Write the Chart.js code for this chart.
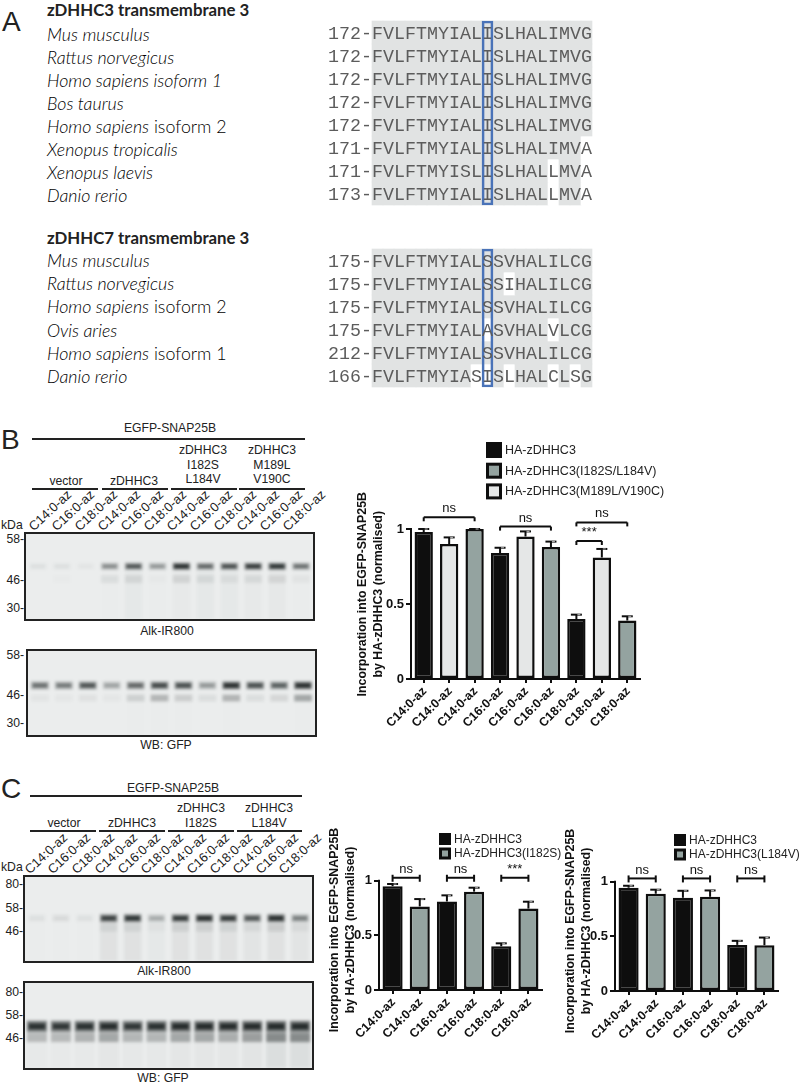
<!DOCTYPE html>
<html>
<head>
<meta charset="utf-8">
<title>zDHHC3 figure</title>
<script src="https://cdn.jsdelivr.net/npm/chart.js@4/dist/chart.umd.min.js"></script>
<style>
  html, body { margin: 0; background: #fff; }
  #page { position: relative; width: 802px; height: 1087px; overflow: hidden; font-family: "Liberation Sans", Arial, sans-serif; color: #222; }
  #page canvas { position: absolute; }
  .txt { position: absolute; white-space: nowrap; line-height: 1; }
  .rule { position: absolute; background: #222; }
  .blot { position: absolute; box-sizing: border-box; border: 2px solid #222; background: #ebeded; overflow: hidden; }
</style>
</head>
<body>
<div id="page"></div>
<script>
// Panel A alignments
const speciesA = ['<i>Mus musculus</i>', '<i>Rattus norvegicus</i>', '<i>Homo sapiens isoform 1</i>', '<i>Bos taurus</i>', '<i>Homo sapiens</i> isoform 2', '<i>Xenopus tropicalis</i>', '<i>Xenopus laevis</i>', '<i>Danio rerio</i>'];
const startA = [172, 172, 172, 172, 172, 171, 171, 173];
const seqA = ['FVLFTMYIALISLHALIMVG', 'FVLFTMYIALISLHALIMVG', 'FVLFTMYIALISLHALIMVG', 'FVLFTMYIALISLHALIMVG', 'FVLFTMYIALISLHALIMVG', 'FVLFTMYIALISLHALIMVA', 'FVLFTMYISLISLHALLMVA', 'FVLFTMYIALISLHALLMVA'];
const unshadedA = [[], [], [], [], [], [19], [16, 19], [16, 19]];

const speciesB = ['<i>Mus musculus</i>', '<i>Rattus norvegicus</i>', '<i>Homo sapiens</i> isoform 2', '<i>Ovis aries</i>', '<i>Homo sapiens</i> isoform 1', '<i>Danio rerio</i>'];
const startB = [175, 175, 175, 175, 212, 166];
const seqB = ['FVLFTMYIALSSVHALILCG', 'FVLFTMYIALSSIHALILCG', 'FVLFTMYIALSSVHALILCG', 'FVLFTMYIALASVHALVLCG', 'FVLFTMYIALSSVHALILCG', 'FVLFTMYIASISLHALCLSG'];
const unshadedB = [[], [12], [], [10, 16], [], [9, 10, 12, 16, 18]];

// Panel B bars
const labelsB = ['C14:0-az', 'C14:0-az', 'C14:0-az', 'C16:0-az', 'C16:0-az', 'C16:0-az', 'C18:0-az', 'C18:0-az', 'C18:0-az'];
const wtB = [0.98, null, null, 0.84, null, null, 0.40, null, null];
const doubleB = [null, null, 1.0, null, null, 0.88, null, null, 0.39];
const mutB = [null, 0.90, null, null, 0.95, null, null, 0.81, null];
const upperB = [1.0, 0.944, 1.0, 0.875, 0.984, 0.916, 0.429, 0.867, 0.418];

// Panel C bars
const labelsC = ['C14:0-az', 'C14:0-az', 'C16:0-az', 'C16:0-az', 'C18:0-az', 'C18:0-az'];
const wtC1 = [0.95, null, 0.81, null, 0.40, null];
const i182s = [null, 0.765, null, 0.90, null, 0.745];
const upperC1 = [0.97, 0.832, 0.866, 0.936, 0.427, 0.808];
const wtC2 = [0.945, null, 0.853, null, 0.422, null];
const l184v = [null, 0.89, null, 0.862, null, 0.419];
const upperC2 = [0.963, 0.927, 0.917, 0.92, 0.459, 0.489];
const yTicks = [0, 0.5, 1];

// Blot band strengths per lane (read by eye)
const lanes = ['1', '2', '3', '4', '5', '6', '7', '8', '9', '10', '11', '12'];
const blotB1Main = [0.05, 0.05, 0.03, 0.4, 0.7, 0.35, 1, 0.6, 0.75, 0.9, 0.95, 0.55];
const blotB1Low = [0, 0.01, 0, 0.07, 0.09, 0.02, 0.1, 0.08, 0.06, 0.08, 0.09, 0.04];
const blotB1Smear = [0, 0, 0, 0.005, 0.025, 0.005, 0.015, 0.025, 0.025, 0.015, 0.02, 0.005];
const blotB2Main = [0.55, 0.5, 0.72, 0.3, 0.6, 0.8, 0.75, 0.35, 1, 0.75, 0.65, 1];
const blotB2Low = [0.04, 0.03, 0.05, 0.03, 0.13, 0.25, 0.14, 0.07, 0.26, 0.07, 0.1, 0.32];
const blotB2Smear = [0, 0, 0, 0, 0.005, 0.005, 0.005, 0, 0.005, 0, 0, 0.005];
const blotC1Main = [0.05, 0.07, 0.05, 0.85, 0.95, 0.25, 0.9, 1, 0.9, 0.7, 1, 0.45];
const blotC1Low = [0, 0, 0, 0.07, 0.07, 0.03, 0.09, 0.09, 0.08, 0.06, 0.1, 0.05];
const blotC1Smear = [0.005, 0.005, 0.005, 0.05, 0.05, 0.025, 0.05, 0.05, 0.05, 0.04, 0.05, 0.04];
const blotC2Main = [0.95, 0.9, 0.95, 1, 0.9, 0.95, 1, 1, 1, 1, 1, 1];
const blotC2Low = [0.22, 0.22, 0.26, 0.3, 0.24, 0.24, 0.3, 0.3, 0.28, 0.34, 0.42, 0.42];
const blotC2Smear = [0.015, 0.015, 0.015, 0.03, 0.02, 0.02, 0.03, 0.03, 0.03, 0.04, 0.07, 0.07];

const BLACK = '#0e0e0e';
const GREY = '#94a3a0';
const LIGHT = '#e5e7e7';
const SHADE = '#e1e3e3';
const BLUE = '#4a73b8';
const SANS = '"Liberation Sans", Arial, sans-serif';
const page = document.getElementById('page');

function put(html, x, y, o = {}) {
  const el = document.createElement('div');
  el.className = 'txt';
  el.innerHTML = html;
  el.style.left = x + 'px';
  el.style.top = y + 'px';
  el.style.fontSize = (o.size || 12.2) + 'px';
  if (o.font) el.style.fontFamily = o.font;
  if (o.bold) el.style.fontWeight = 'bold';
  if (o.light) { el.style.fontWeight = '300'; el.style.color = '#000'; }
  const shift = o.align === 'left' ? '0' : o.align === 'right' ? '-100%' : '-50%';
  el.style.transform = `translate(${shift},-50%)`;
  page.appendChild(el);
}

function rule(x1, x2, y, h = 2) {
  const el = document.createElement('div');
  el.className = 'rule';
  el.style.cssText = `left:${x1}px;top:${y - h / 2}px;width:${x2 - x1}px;height:${h}px`;
  page.appendChild(el);
}

function addCanvas(parent, left, top, w, h) {
  const c = document.createElement('canvas');
  c.width = w;
  c.height = h;
  c.style.cssText = `left:${left}px;top:${top}px;width:${w}px;height:${h}px`;
  parent.appendChild(c);
  return c;
}

function laneLabels(x0, y0) {
  for (let i = 0; i < 12; i++) {
    const el = document.createElement('div');
    el.className = 'txt';
    el.textContent = ['C14:0-az', 'C16:0-az', 'C18:0-az'][i % 3];
    el.style.cssText += `left:${x0 + 4 + i * 23.1}px;top:${y0 - 10}px;font-size:13px;transform-origin:0 100%;transform:rotate(-43deg)`;
    page.appendChild(el);
  }
}

// Alignment block: shading comes from floating bars, one dataset per sequence
function drawAlignment(top, seqs, starts, unshaded, boxColumn) {
  const columns = seqs[0].split('').map((_, i) => String(i));
  const canvas = addCanvas(page, 325, top - 3, 270, seqs.length * 23 + 6);
  const datasets = seqs.map((s, r) => ({
    data: columns.map(() => [r, r + 1]),
    backgroundColor: columns.map((_, c) => unshaded[r].includes(c) ? '#fff' : SHADE),
    borderWidth: 0,
    clip: false
  }));
  // lower order draws on top, the box has to sit over the shading
  datasets.push({
    data: columns.map((_, c) => c === boxColumn ? [0, seqs.length] : null),
    backgroundColor: 'rgba(0,0,0,0)',
    borderColor: BLUE,
    borderWidth: 2,
    borderSkipped: false,
    clip: false,
    order: -1
  });
  new Chart(canvas, {
    type: 'bar',
    data: { labels: columns, datasets },
    options: {
      responsive: false,
      animation: false,
      layout: { padding: { left: 47, right: 3, top: 3, bottom: 3 } },
      datasets: { bar: { grouped: false, barPercentage: 1, categoryPercentage: 1 } },
      plugins: { legend: { display: false }, tooltip: { enabled: false } },
      scales: {
        x: { display: false },
        y: { display: false, reverse: true, min: 0, max: seqs.length }
      }
    },
    plugins: [{
      id: 'residues',
      afterDraw(chart) {
        const { ctx, scales: { x, y } } = chart;
        ctx.save();
        ctx.font = '18.3px "Liberation Mono", monospace';
        ctx.fillStyle = '#5c5c5c';
        ctx.textAlign = 'center';
        ctx.textBaseline = 'middle';
        seqs.forEach((s, r) => {
          const py = y.getPixelForValue(r + 0.58);
          (starts[r] + '-').split('').forEach((ch, i) => ctx.fillText(ch, x.getPixelForValue(i - 4), py));
          s.split('').forEach((ch, c) => ctx.fillText(ch, x.getPixelForValue(c), py));
        });
        ctx.restore();
      }
    }]
  });
}

// Western blot panel: bands are floating bars, the css blur softens them
function drawBlot(left, top, w, h, main, low, smear, mainY, lowY, thick, lowHalf, barPct) {
  const box = document.createElement('div');
  box.className = 'blot';
  box.style.cssText = `left:${left}px;top:${top}px;width:${w}px;height:${h}px`;
  page.appendChild(box);
  const canvas = addCanvas(box, 0, 0, w - 4, h - 4);
  canvas.style.filter = 'blur(1.5px)';
  const band = (vals, y1, y2, alpha, pct) => ({
    data: vals.map(() => [y1, y2]),
    backgroundColor: vals.map(v => `rgba(18,24,24,${(v * alpha).toFixed(3)})`),
    borderWidth: 0,
    barPercentage: pct
  });
  new Chart(canvas, {
    type: 'bar',
    data: {
      labels: lanes,
      datasets: [
        band(smear, mainY, 1, 1, barPct),
        band(low, lowY - lowHalf, lowY + lowHalf, 1, barPct),
        band(main, mainY - thick, mainY + thick, 0.55, barPct),
        band(main, mainY - thick * 0.5, mainY + thick * 0.5, 0.8, barPct * 0.82)
      ]
    },
    options: {
      responsive: false,
      animation: false,
      layout: { padding: 0 },
      datasets: { bar: { grouped: false, categoryPercentage: 1 } },
      plugins: { legend: { display: false }, tooltip: { enabled: false } },
      scales: {
        x: { display: false },
        y: { display: false, reverse: true, min: 0, max: 1 }
      }
    }
  });
}

// Bar chart with error caps, brackets and a stacked legend
function drawBars(p) {
  const canvas = addCanvas(page, p.left, p.top, p.width, p.height);
  const datasets = p.series.map(s => ({
    label: s.label,
    data: s.data,
    backgroundColor: s.color,
    borderColor: BLACK,
    borderWidth: 2.5,
    borderSkipped: false,
    clip: false
  }));
  new Chart(canvas, {
    type: 'bar',
    data: { labels: p.labels, datasets },
    options: {
      responsive: false,
      animation: false,
      layout: { padding: p.padding },
      datasets: { bar: { grouped: false, barPercentage: p.barPct, categoryPercentage: 1 } },
      plugins: { legend: { display: false }, tooltip: { enabled: false } },
      scales: {
        x: {
          afterFit: s => { s.height = p.xHeight; },
          grid: { display: true, drawOnChartArea: false, offset: false, color: BLACK, lineWidth: 2, tickLength: 4 },
          border: { display: true, color: BLACK, width: 2 },
          ticks: { color: '#111', font: { family: SANS, size: 12.4, weight: 'bold' }, maxRotation: 45, minRotation: 45, autoSkip: false, padding: 1, labelOffset: 1 }
        },
        y: {
          min: 0,
          max: p.yMax,
          afterBuildTicks: s => { s.ticks = yTicks.map(v => ({ value: v })); },
          afterFit: s => { s.width = p.yWidth; },
          grid: { display: true, drawOnChartArea: false, color: BLACK, lineWidth: 2, tickLength: 5 },
          border: { display: false },
          ticks: { color: '#111', font: { family: SANS, size: 13, weight: 'bold' }, padding: 2, callback: v => String(v) },
          title: {
            display: true,
            text: ['Incorporation into EGFP-SNAP25B', 'by HA-zDHHC3 (normalised)'],
            color: '#111',
            font: { family: SANS, size: 12.4, weight: 'bold', lineHeight: 1.25 },
            padding: { top: p.titleTop, bottom: 0 }
          }
        }
      }
    },
    plugins: [{
      id: 'extras',
      afterDatasetsDraw(chart) {
        const { ctx, scales: { x, y } } = chart;
        ctx.save();
        ctx.strokeStyle = BLACK;
        ctx.fillStyle = '#111';
        ctx.lineWidth = 2;
        const line = (x1, y1, x2, y2) => {
          ctx.beginPath();
          ctx.moveTo(x1, y1);
          ctx.lineTo(x2, y2);
          ctx.stroke();
        };
        // y axis only runs up to 1
        const ax = x.left;
        line(ax, y.getPixelForValue(0), ax, y.getPixelForValue(1) - 1);

        p.upper.forEach((u, i) => {
          const cx = x.getPixelForValue(i);
          const py = y.getPixelForValue(u);
          const base = p.series.map(s => s.data[i]).find(v => v !== null);
          line(cx, y.getPixelForValue(base), cx, py);
          line(cx - 5.5, py, cx + 5.5, py);
          ctx.save();
          ctx.strokeStyle = '#bbb';
          ctx.lineWidth = 1;
          line(cx + 1, py, cx + 4, py);
          ctx.restore();
        });

        p.brackets.forEach(b => {
          const x1 = x.getPixelForValue(b.from);
          const x2 = x.getPixelForValue(b.to);
          const py = y.getPixelForValue(b.level);
          line(x1, py, x2, py);
          line(x1, py - (p.stemUp || 0), x1, py + 4);
          line(x2, py - (p.stemUp || 0), x2, py + 4);
          ctx.font = `13px ${SANS}`;
          ctx.textAlign = 'center';
          ctx.textBaseline = 'middle';
          ctx.fillText(b.text, (x1 + x2) / 2, py - 8.5);
        });

        // legend reads the dataset labels and colours
        ctx.font = `${p.legend.size}px ${SANS}`;
        ctx.textAlign = 'left';
        ctx.textBaseline = 'middle';
        p.series.forEach((s, i) => {
          const top = p.legend.y + i * p.legend.step;
          ctx.fillStyle = BLACK;
          ctx.fillRect(p.legend.x, top, p.legend.box, p.legend.box);
          if (s.color !== BLACK) {
            ctx.fillStyle = s.color;
            ctx.fillRect(p.legend.x + 3, top + 3, p.legend.box - 6, p.legend.box - 6);
          }
          ctx.fillStyle = '#222';
          ctx.fillText(s.label, p.legend.x + p.legend.box + 3, top + p.legend.box / 2 + 0.5);
        });
        ctx.restore();
      }
    }]
  });
}

// ---- Panel A ----
put('A', 2, 22, { align: 'left', size: 28 });
put('zDHHC3 transmembrane 3', 47, 10, { align: 'left', font: 'Lato', size: 16.8, bold: true });
speciesA.forEach((s, i) => put(s, 47, 35 + i * 23, { align: 'left', font: 'Lato', size: 17.8, light: true }));
drawAlignment(21, seqA, startA, unshadedA, 10);
put('zDHHC7 transmembrane 3', 47, 238, { align: 'left', font: 'Lato', size: 16.8, bold: true });
speciesB.forEach((s, i) => put(s, 47, 261 + i * 23.2, { align: 'left', font: 'Lato', size: 17.8, light: true }));
drawAlignment(249, seqB, startB, unshadedB, 10);

// ---- Panel B ----
put('B', 1, 440, { align: 'left', size: 28 });
put('EGFP-SNAP25B', 170, 428);
rule(32, 305, 439);
rule(32, 98, 489); rule(102, 168, 489); rule(171, 237, 489); rule(239, 305, 489);
put('vector', 66, 481);
put('zDHHC3', 134, 481);
['zDHHC3', 'I182S', 'L184V'].forEach((t, i) => put(t, 203, 450 + i * 14.5));
['zDHHC3', 'M189L', 'V190C'].forEach((t, i) => put(t, 272, 450 + i * 14.5));
laneLabels(30.7, 530);
put('kDa', 1, 525, { align: 'left' });
[['58-', 539], ['46-', 580], ['30-', 608]].forEach(m => put(m[0], 24, m[1], { align: 'right' }));
[['58-', 655], ['46-', 695], ['30-', 723]].forEach(m => put(m[0], 24, m[1], { align: 'right' }));
drawBlot(24, 532, 291, 89, blotB1Main, blotB1Low, blotB1Smear, 0.38, 0.53, 0.04, 0.045, 0.72);
put('Alk-IR800', 167, 631);
drawBlot(26, 649, 291, 88, blotB2Main, blotB2Low, blotB2Smear, 0.41, 0.56, 0.045, 0.04, 0.74);
put('WB: GFP', 166, 745);

drawBars({
  left: 340, top: 430, width: 340, height: 320,
  padding: { left: 0, top: 79.5, right: 40, bottom: 0 },
  xHeight: 71, yWidth: 71, yMax: 1.13, titleTop: 15, barPct: 0.72,
  labels: labelsB,
  upper: upperB,
  series: [
    { label: 'HA-zDHHC3', data: wtB, color: BLACK },
    { label: 'HA-zDHHC3(I182S/L184V)', data: doubleB, color: GREY },
    { label: 'HA-zDHHC3(M189L/V190C)', data: mutB, color: LIGHT }
  ],
  brackets: [
    { from: 0, to: 2, level: 1.078, text: 'ns' },
    { from: 3, to: 5, level: 1.016, text: 'ns' },
    { from: 6, to: 8, level: 1.044, text: 'ns' },
    { from: 6, to: 7, level: 0.92, text: '***' }
  ],
  legend: { x: 146, y: 12, step: 20.7, box: 16, size: 12.5 }
});

// ---- Panel C ----
put('C', 1, 789, { align: 'left', size: 28 });
put('EGFP-SNAP25B', 173, 788);
rule(30, 302, 796);
rule(30, 96, 831); rule(99, 165, 831); rule(168, 234, 831); rule(237, 302, 831);
put('vector', 64, 823);
put('zDHHC3', 132, 823);
['zDHHC3', 'I182S'].forEach((t, i) => put(t, 201, 808 + i * 15));
['zDHHC3', 'L184V'].forEach((t, i) => put(t, 269, 808 + i * 15));
laneLabels(27.3, 873);
put('kDa', 1, 867, { align: 'left' });
[['80-', 884], ['58-', 908], ['46-', 931]].forEach(m => put(m[0], 23, m[1], { align: 'right' }));
[['80-', 992], ['58-', 1015], ['46-', 1038]].forEach(m => put(m[0], 23, m[1], { align: 'right' }));
drawBlot(23, 875, 291, 88, blotC1Main, blotC1Low, blotC1Smear, 0.49, 0.6, 0.045, 0.05, 0.72);
put('Alk-IR800', 164, 971);
drawBlot(23, 981, 291, 89, blotC2Main, blotC2Low, blotC2Smear, 0.51, 0.64, 0.065, 0.055, 0.84);
put('WB: GFP', 163, 1078);

drawBars({
  left: 320, top: 800, width: 245, height: 287,
  padding: { left: 0, top: 70, right: 23, bottom: 0 },
  xHeight: 97, yWidth: 59, yMax: 1.098, titleTop: 7, barPct: 0.74,
  labels: labelsC,
  upper: upperC1,
  stemUp: 3,
  series: [
    { label: 'HA-zDHHC3', data: wtC1, color: BLACK },
    { label: 'HA-zDHHC3(I182S)', data: i182s, color: GREY }
  ],
  brackets: [
    { from: 0, to: 1, level: 1.027, text: 'ns' },
    { from: 2, to: 3, level: 1.027, text: 'ns' },
    { from: 4, to: 5, level: 1.027, text: '***' }
  ],
  legend: { x: 119, y: 33, step: 14.5, box: 12, size: 12 }
});

drawBars({
  left: 556, top: 800, width: 246, height: 287,
  padding: { left: 0, top: 71, right: 24, bottom: 0 },
  xHeight: 96, yWidth: 59, yMax: 1.098, titleTop: 7, barPct: 0.74,
  labels: labelsC,
  upper: upperC2,
  stemUp: 3,
  series: [
    { label: 'HA-zDHHC3', data: wtC2, color: BLACK },
    { label: 'HA-zDHHC3(L184V)', data: l184v, color: GREY }
  ],
  brackets: [
    { from: 0, to: 1, level: 1.03, text: 'ns' },
    { from: 2, to: 3, level: 1.03, text: 'ns' },
    { from: 4, to: 5, level: 1.03, text: 'ns' }
  ],
  legend: { x: 118, y: 34, step: 14.5, box: 12, size: 12 }
});
</script>
</body>
</html>
